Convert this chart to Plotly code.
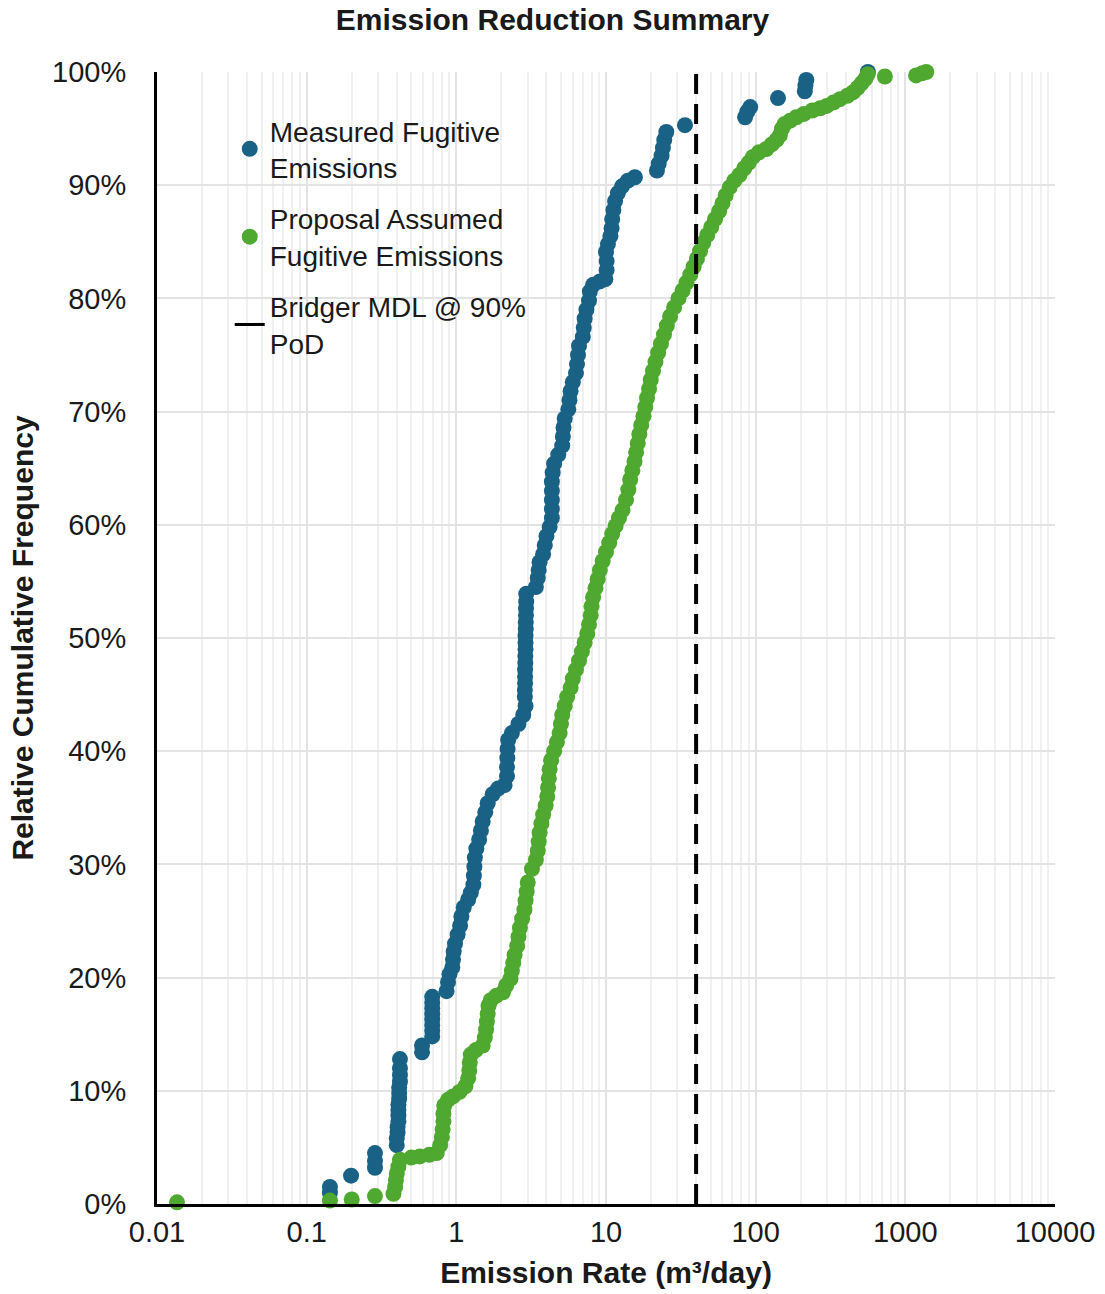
import plotly.graph_objects as go

# ---- data ----
measured_rate = [
    0.143, 0.143, 0.198, 0.286, 0.286, 0.286,
    0.40, 0.40, 0.405, 0.405, 0.41, 0.41, 0.41, 0.41, 0.415, 0.415, 0.415, 0.42, 0.42, 0.42, 0.42,
    0.59, 0.59,
    0.69, 0.69, 0.69, 0.69, 0.69, 0.69, 0.69, 0.69,
    0.86, 0.88, 0.90, 0.94, 0.95, 0.96, 0.98,
    1.02, 1.06, 1.08, 1.12, 1.20, 1.25,
    1.30, 1.31, 1.32, 1.33, 1.36, 1.42, 1.46, 1.50, 1.56, 1.62,
    1.75, 1.90, 2.10, 2.18, 2.18, 2.19, 2.20, 2.22,
    2.35, 2.60, 2.80, 2.90,
    2.87, 2.87, 2.88, 2.88, 2.88, 2.89, 2.89, 2.90, 2.90, 2.90, 2.91, 2.91, 2.92, 2.92, 2.93, 2.93,
    3.40, 3.50, 3.55, 3.60, 3.80, 3.90, 4.00, 4.20, 4.35,
    4.35, 4.35, 4.35, 4.35, 4.40, 4.50,
    4.80, 5.10, 5.15, 5.20, 5.30, 5.60, 5.70, 5.80, 6.00,
    6.30, 6.40, 6.50, 6.60, 7.00, 7.10, 7.20, 7.40, 7.70, 7.80, 8.20, 9.10, 9.90,
    10.1, 10.1, 10.0, 10.3, 10.7, 10.9, 11.0, 11.2, 11.5,
    12.0, 12.8, 14.0, 15.6, 21.9, 22.5, 23.5, 24.0, 24.5, 25.3,
    33.7, 85.0, 88.0, 92.0, 141.0, 213.0, 215.0, 218.0, 562.0,
]
measured_freq = [
    1.0, 1.5, 2.5, 3.2, 3.8, 4.5,
    5.2, 5.8, 6.3, 6.8, 7.3, 7.8, 8.3, 8.8, 9.3, 9.8, 10.3, 10.8, 11.4, 12.0, 12.8,
    13.4, 14.0,
    14.8, 15.3, 15.8, 16.3, 16.8, 17.3, 17.8, 18.3,
    18.8, 19.6, 20.3, 20.9, 21.6, 22.3, 23.0,
    23.8, 24.6, 25.4, 26.2, 26.9, 27.5,
    28.2, 29.0, 29.8, 30.6, 31.4, 32.2, 33.0, 33.8, 34.6, 35.4,
    36.2, 36.7, 37.0, 37.8, 38.6, 39.4, 40.2, 41.0,
    41.6, 42.4, 43.2, 44.0,
    44.8, 45.4, 46.0, 46.6, 47.2, 47.8, 48.4, 49.0, 49.6, 50.2, 50.8, 51.4, 52.0, 52.6, 53.2, 53.9,
    54.5, 55.3, 56.0, 56.7, 57.4, 58.2, 59.0, 59.8, 60.6,
    61.4, 62.2, 63.0, 63.8, 64.6, 65.4,
    66.2, 67.0, 67.8, 68.6, 69.4, 70.2, 71.0, 71.8, 72.6,
    73.4, 74.2, 75.0, 75.8, 76.6, 77.4, 78.2, 79.0, 79.8, 80.6, 81.2, 81.5, 81.7,
    82.5, 83.3, 84.1, 84.8, 85.5, 86.2, 87.0, 87.8, 88.6,
    89.3, 89.9, 90.4, 90.7, 91.3, 91.9, 92.6, 93.3, 94.0, 94.7,
    95.3, 96.0, 96.5, 96.9, 97.7, 98.3, 98.8, 99.3, 100.0,
]

proposal_rate = [
    0.0136, 0.143, 0.20, 0.286,
    0.38, 0.39, 0.395, 0.40, 0.41, 0.42,
    0.50, 0.57, 0.66, 0.74,
    0.78, 0.80, 0.81, 0.82, 0.82, 0.83,
    0.88, 0.95, 1.05, 1.15, 1.20, 1.22, 1.23, 1.25, 1.35, 1.50,
    1.55, 1.58, 1.60, 1.62, 1.64, 1.70, 1.85, 2.05, 2.15, 2.30,
    2.35, 2.40, 2.45, 2.55, 2.60, 2.66, 2.75, 2.85, 2.90, 2.95, 3.00,
    3.20, 3.40, 3.50, 3.55, 3.60, 3.70, 3.80, 3.95, 4.05, 4.10, 4.15, 4.20, 4.30,
    4.50, 4.70, 4.90, 5.00, 5.10, 5.30, 5.50, 5.80, 6.00, 6.30, 6.60, 6.90, 7.20, 7.50,
    7.70, 7.90, 8.00, 8.20, 8.50, 8.80, 9.10, 9.50, 10.0, 10.5,
    11.0, 11.6, 12.2, 12.9, 13.6, 14.1,
    14.5, 15.0, 15.5, 15.9, 16.3, 16.7, 17.2, 17.8, 18.3, 18.8, 19.4, 19.9,
    20.6, 21.4, 22.3, 23.3, 24.4, 25.5, 26.8, 28.5, 30.5, 32.5, 34.5, 36.6,
    38.5, 40.5, 42.5, 44.6, 47.5, 50.5, 53.5, 57.0, 60.0, 63.0, 67.0, 72.0,
    78.0, 84.0, 90.0, 96.0, 105.0, 118.0, 128.0, 138.0, 145.0, 150.0, 156.0,
    170.0, 187.0, 210.0, 239.0, 270.0, 298.0, 330.0, 366.0, 410.0, 446.0,
    480.0, 510.0, 540.0, 560.0, 730.0, 1180.0, 1300.0, 1380.0,
]
proposal_freq = [
    0.15, 0.3, 0.4, 0.7,
    0.9, 1.5, 2.1, 2.7, 3.3, 3.9,
    4.1, 4.2, 4.35, 4.5,
    5.2, 5.9, 6.6, 7.3, 8.0, 8.7,
    9.2, 9.5, 9.9, 10.4, 11.1, 11.8, 12.5, 13.2, 13.6, 14.0,
    14.7, 15.4, 16.1, 16.8, 17.5, 18.0, 18.4, 18.7, 19.3, 19.9,
    20.6, 21.3, 22.0, 22.8, 23.6, 24.4, 25.2, 26.0, 26.8, 27.6, 28.4,
    29.6, 30.4, 31.2, 32.0, 32.8, 33.6, 34.4, 35.2, 36.0, 36.8, 37.6, 38.4, 39.2,
    40.0, 40.8, 41.6, 42.4, 43.2, 44.0, 44.8, 45.6, 46.4, 47.2, 48.0, 48.8, 49.6, 50.4,
    51.2, 52.0, 52.8, 53.6, 54.4, 55.2, 56.0, 56.8, 57.6, 58.4,
    59.2, 59.9, 60.6, 61.3, 62.2, 63.1,
    64.0, 64.8, 65.6, 66.4, 67.2, 68.0, 68.8, 69.6, 70.4, 71.2, 72.0, 72.8,
    73.6, 74.4, 75.2, 76.0, 76.8, 77.6, 78.4, 79.2, 80.0, 80.7, 81.4, 82.1,
    82.8, 83.5, 84.2, 84.9, 85.6, 86.3, 87.0, 87.7, 88.4, 89.1, 89.8, 90.4,
    90.9, 91.5, 92.0, 92.5, 92.9, 93.2, 93.6, 94.0, 94.4, 95.0, 95.4,
    95.7, 96.0, 96.3, 96.6, 96.8, 97.0, 97.3, 97.6, 97.9, 98.2,
    98.6, 99.0, 99.4, 99.8, 99.6, 99.7, 99.9, 100.0,
]

mdl_rate = 40.0
mdl_freq_span = [0, 100]

x_tick_values = [0.01, 0.1, 1, 10, 100, 1000, 10000]
x_tick_labels = ["0.01", "0.1", "1", "10", "100", "1000", "10000"]

BLUE = "#1a6285"
GREEN = "#4fa82f"
FONT = "Liberation Sans"
TXT = "#1a1a1a"

fig = go.Figure()

fig.add_trace(go.Scatter(
    x=measured_rate, y=measured_freq, mode="markers",
    name="Measured Fugitive<br>Emissions", legendgroup="a",
    marker=dict(color=BLUE, size=16, line=dict(width=0)),
    cliponaxis=False,
))
fig.add_trace(go.Scatter(
    x=proposal_rate, y=proposal_freq, mode="markers",
    name="Proposal Assumed<br>Fugitive Emissions", legendgroup="b",
    marker=dict(color=GREEN, size=16, line=dict(width=0)),
    cliponaxis=False,
))
fig.add_trace(go.Scatter(
    x=[mdl_rate, mdl_rate], y=mdl_freq_span, mode="lines",
    line=dict(color="black", width=4, dash="20px,10px"),
    showlegend=False, hoverinfo="skip",
))
fig.add_trace(go.Scatter(
    x=[None], y=[None], mode="lines",
    name="Bridger MDL @ 90%<br>PoD", legendgroup="c",
    line=dict(color="black", width=3),
))

fig.update_layout(
    width=1105, height=1294,
    margin=dict(l=157, r=50, t=72, b=90, autoexpand=False),
    paper_bgcolor="white", plot_bgcolor="white",
    font=dict(family=FONT, color=TXT, size=27),
    title=dict(text="<b>Emission Reduction Summary</b>", x=0.5, xanchor="center",
               y=0.985, yanchor="middle", font=dict(size=30, family=FONT, color=TXT)),
    legend=dict(x=0.081, y=0.970, xanchor="left", yanchor="top",
                bgcolor="rgba(0,0,0,0)", font=dict(size=28, family=FONT, color=TXT),
                tracegroupgap=12, itemsizing="trace"),
    showlegend=True,
)

fig.update_xaxes(
    type="log", range=[-2, 4], automargin=False,
    tickvals=x_tick_values, ticktext=x_tick_labels,
    showline=True, linecolor="black", linewidth=3,
    showgrid=True, gridcolor="#e3e3e3", gridwidth=2,
    minor=dict(dtick="D1", showgrid=True, gridcolor="#f0f0f0", gridwidth=1.5),
    ticks="", zeroline=False,
    tickfont=dict(size=29, family=FONT, color=TXT),
    title=dict(text="<b>Emission Rate (m³/day)</b>", font=dict(size=30, family=FONT, color=TXT),
               standoff=16),
)
fig.update_yaxes(
    range=[0, 100], dtick=10, ticksuffix="%", automargin=False,
    showline=True, linecolor="black", linewidth=3,
    showgrid=True, gridcolor="#e3e3e3", gridwidth=2,
    ticks="", zeroline=False, ticklabelstandoff=22,
    tickfont=dict(size=29, family=FONT, color=TXT),
    title=dict(text="<b>Relative Cumulative Frequency</b>", font=dict(size=30, family=FONT, color=TXT),
               standoff=10),
)

fig.write_html("out.html")
